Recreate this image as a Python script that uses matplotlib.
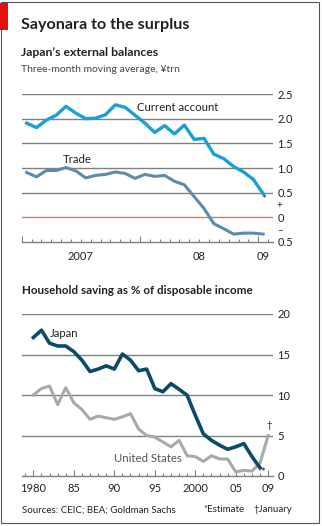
import numpy as np
import matplotlib.pyplot as plt
from matplotlib.patches import Rectangle
from matplotlib.ticker import MultipleLocator

plt.rcParams['font.family'] = ['Lato', 'DejaVu Sans']

# Japan's external balances, three-month moving average, Y trn (Jan 2007 - Jan 2009)
current_account = [1.91, 1.82, 1.97, 2.07, 2.25, 2.11, 2.00, 2.01, 2.08, 2.28, 2.23, 2.07,
                   1.91, 1.72, 1.86, 1.69, 1.87, 1.58, 1.60, 1.28, 1.19, 1.03, 0.92, 0.77, 0.48]
trade = [0.91, 0.82, 0.95, 0.95, 1.01, 0.94, 0.80, 0.85, 0.87, 0.92, 0.89, 0.79,
         0.87, 0.83, 0.85, 0.73, 0.66, 0.42, 0.18, -0.13, -0.23, -0.34, -0.32, -0.32, -0.34]

# household saving, % of disposable income
japan_years = list(range(1980, 2009))
japan_saving = [17.1, 18.0, 16.4, 16.05, 16.05, 15.35, 14.3, 12.9, 13.2, 13.6, 13.2, 15.06,
                14.3, 13.0, 13.2, 10.8, 10.4, 11.4, 10.7, 9.96, 7.5, 5.2, 4.4, 3.8, 3.3,
                3.6, 4.0, 2.4, 1.0]
us_years = list(range(1980, 2010))
us_saving = [10.0, 10.8, 11.1, 8.8, 10.9, 9.05, 8.2, 7.0, 7.4, 7.2, 7.0, 7.3, 7.7, 5.8,
             5.0, 4.8, 4.2, 3.6, 4.4, 2.5, 2.4, 1.8, 2.5, 2.1, 2.1, 0.5, 0.7, 0.6, 1.6, 5.0]

W, H = 322, 526
GRID = '#808080'
TXT = '#222222'


def px_axes(fig, left, top, right, bottom):
    return fig.add_axes([left / W, 1 - bottom / H, (right - left) / W, (bottom - top) / H])


def style_axes(ax):
    for s in ('top', 'left', 'right'):
        ax.spines[s].set_visible(False)
    ax.spines['bottom'].set_color(GRID)
    ax.spines['bottom'].set_linewidth(1)
    ax.yaxis.tick_right()
    ax.tick_params(axis='y', length=0, pad=3, labelsize=8, labelcolor=TXT)
    ax.tick_params(axis='x', which='both', direction='in', color=GRID, width=0.8)
    ax.tick_params(axis='x', which='major', length=4)
    ax.tick_params(axis='x', which='minor', length=2)
    ax.set_facecolor('none')


fig = plt.figure(figsize=(W / 100, H / 100), dpi=100)

# frame and red tag
fig.patches.append(Rectangle((1 / W, 1 - 523 / H), 318 / W, 521 / H, transform=fig.transFigure,
                             fill=False, edgecolor='#555555', linewidth=0.8))
fig.patches.append(Rectangle((0, 1 - 30 / H), 8 / W, 27 / H, transform=fig.transFigure,
                             facecolor='#e3120b', edgecolor='none'))

fig.text(21 / W, 1 - 25 / H, 'Sayonara to the surplus', fontsize=11.6, fontweight='bold',
         color=TXT, va='center', ha='left')
fig.text(21 / W, 1 - 53 / H, 'Japan\u2019s external balances', fontsize=8.8, fontweight='bold',
         color=TXT, va='center', ha='left')
fig.text(21 / W, 1 - 70 / H, 'Three-month moving average, \u00a5trn', fontsize=7.5,
         color='#444444', va='center', ha='left')

# top panel
ax1 = px_axes(fig, 21.7, 94, 273, 242)
months = np.arange(len(current_account)) + 0.5
for v in [0.5, 1.0, 1.5, 2.0, 2.5]:
    ax1.axhline(v, color=GRID, lw=1, zorder=1)
ax1.axhline(0, color='#e07a5f', lw=1, zorder=1)
ax1.plot(months, trade, color='#5b8bad', lw=2.2, solid_joinstyle='round', zorder=3)
ax1.plot(months, current_account, color='#1a9fda', lw=2.4, solid_joinstyle='round', zorder=4)
ax1.set_xlim(0, 25.5)
ax1.set_ylim(-0.5, 2.5)
style_axes(ax1)
ax1.set_yticks([-0.5, 0, 0.5, 1.0, 1.5, 2.0, 2.5])
ax1.set_yticklabels(['0.5', '0', '0.5', '1.0', '1.5', '2.0', '2.5'])
ax1.text(1.015, 0.25 / 3 + 1 / 6 - 0.005, '+', transform=ax1.transAxes, fontsize=7, color=TXT,
         ha='left', va='center')
ax1.text(1.015, 0.25 / 3 - 0.005, '\u2013', transform=ax1.transAxes, fontsize=7, color=TXT,
         ha='left', va='center')
ax1.set_xticks([0, 12, 24])
ax1.set_xticklabels([])
ax1.xaxis.set_minor_locator(MultipleLocator(1))
for x, lab in [(6, '2007'), (18, '08'), (24.5, '09')]:
    ax1.text(x, -0.1, lab, transform=ax1.get_xaxis_transform(), ha='center', va='center',
             fontsize=8, color=TXT)
ax1.text(months[-1] + 0.1, 0.37, '*', ha='center', va='center', fontsize=8, color=TXT)
ax1.text(11.7, 2.23, 'Current account', ha='left', va='center', fontsize=8.2, color=TXT)
ax1.text(4.2, 1.17, 'Trade', ha='left', va='center', fontsize=8.2, color=TXT)

# bottom panel
fig.text(22 / W, 1 - 291 / H, 'Household saving as % of disposable income', fontsize=8.4,
         fontweight='bold', color=TXT, va='center', ha='left')
ax2 = px_axes(fig, 22, 314, 273, 476)
for v in [5, 10, 15, 20]:
    ax2.axhline(v, color=GRID, lw=1, zorder=1)
ax2.plot(us_years, us_saving, color='#a9a9a9', lw=2.2, solid_joinstyle='round', zorder=3)
ax2.plot(japan_years, japan_saving, color='#0c4b68', lw=2.6, solid_joinstyle='round', zorder=4)
ax2.set_xlim(1978.6, 2009.6)
ax2.set_ylim(0, 20)
style_axes(ax2)
ax2.set_yticks([0, 5, 10, 15, 20])
ax2.set_xticks([1980, 1985, 1990, 1995, 2000, 2005, 2009])
ax2.set_xticklabels(['1980', '85', '90', '95', '2000', '05', '09'])
ax2.tick_params(axis='x', which='major', labelsize=8, labelcolor=TXT, pad=5)
ax2.xaxis.set_minor_locator(MultipleLocator(1))
ax2.text(2008.35, 0.45, '*', ha='center', va='center', fontsize=8, color=TXT, zorder=5)
ax2.text(2009.1, 6.2, '\u2020', ha='center', va='center', fontsize=7, color=TXT)
ax2.text(1982.1, 17.6, 'Japan', ha='left', va='center', fontsize=8.2, color=TXT)
ax2.text(1990.0, 2.2, 'United States', ha='left', va='center', fontsize=8.2, color='#555555')

fig.text(22 / W, 1 - 510 / H, 'Sources: CEIC; BEA; Goldman Sachs', fontsize=7, color=TXT,
         va='center', ha='left')
fig.text(203 / W, 1 - 510 / H, '*Estimate', fontsize=7, color=TXT, va='center', ha='left')
fig.text(253 / W, 1 - 510 / H, '\u2020January', fontsize=7, color=TXT, va='center', ha='left')

fig.savefig('out.png', dpi=100, facecolor='white')
